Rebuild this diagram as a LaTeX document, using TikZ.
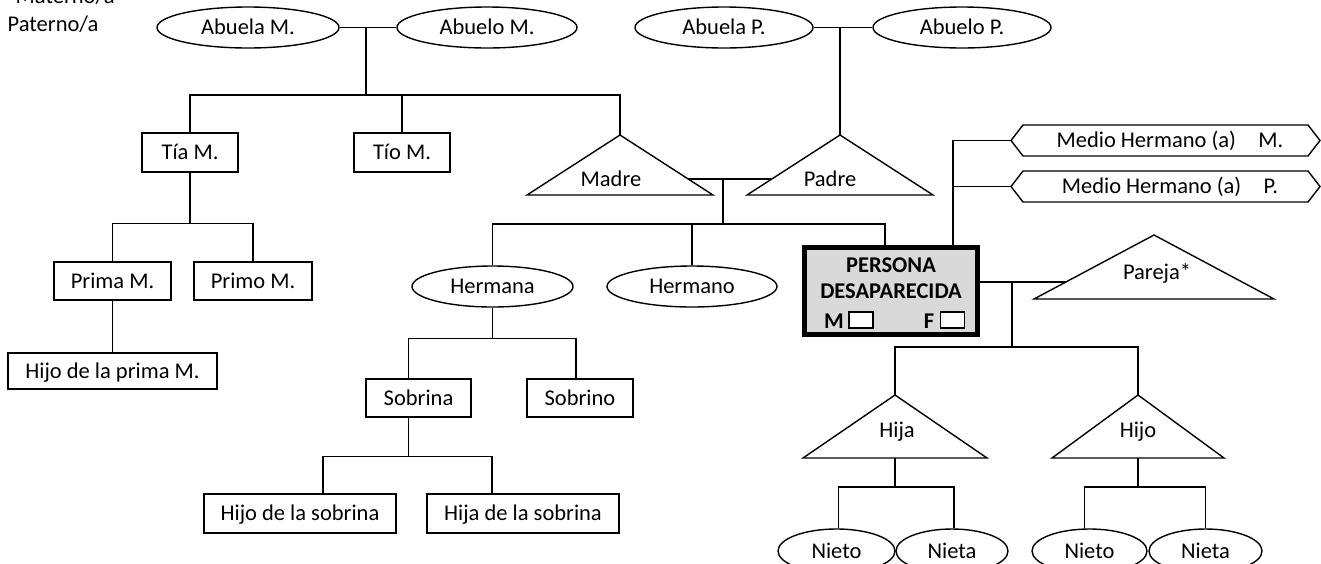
\documentclass[tikz,border=0pt]{standalone}
\usepackage{fontspec}
\setmainfont{Carlito}
\usetikzlibrary{shapes.geometric}
\begin{document}
\begin{tikzpicture}[
    x=0.5pt, y=-0.5pt,
    font=\fontsize{11.25}{13}\selectfont,
    line width=0.7pt,
    %% Persona en elipse
    oval/.style={draw, ellipse, inner sep=0pt, text height=7.2pt, text depth=0pt},
    %% Persona en caja
    caja/.style={draw, rectangle, inner sep=0pt, text height=7.2pt, text depth=0pt},
    %% Texto dentro de triángulo / hexágono
    trilbl/.style={inner sep=0pt, text height=7.2pt, text depth=0pt},
    %% Persona desaparecida
    desap/.style={draw, line width=2.5pt, fill=black!15, inner sep=0pt},
    desaptxt/.style={font=\fontsize{11.25}{13}\selectfont\bfseries,
        inner sep=0pt, text height=7.2pt, text depth=0pt},
    %% Casilla M / F
    casilla/.style={draw, fill=white, line width=0.7pt, inner sep=0pt,
        minimum width=12pt, minimum height=8pt},
    %% Leyenda arriba a la izquierda
    leyenda/.style={anchor=base west, inner sep=0pt}
]
\useasboundingbox (0,0) rectangle (1321,563);

%% ══════════════════════════════════════════════════════════════════
%% Leyenda
%% ══════════════════════════════════════════════════════════════════
\node[leyenda] (materno) at (15,3) {Materno/a};
\node[leyenda] (paterno) at (7,31) {Paterno/a};

%% ══════════════════════════════════════════════════════════════════
%% Elipses
%% ══════════════════════════════════════════════════════════════════
\foreach \n/\x/\y/\w/\h/\t in {
    abuelaM/248/27.5/182/41/Abuela M.,
    abueloM/487/27.5/180/41/Abuelo M.,
    abuelaP/724/27.5/178/41/Abuela P.,
    abueloP/962/27.5/178/41/Abuelo P.,
    hermana/492.5/286.5/161/41/Hermana,
    hermano/692/286.5/170/41/Hermano,
    nieto1/836.5/551/117/44/Nieto,
    nieta1/952/551/112/44/Nieta,
    nieto2/1089.5/551/115/44/Nieto,
    nieta2/1205.5/551/113/44/Nieta} {
    \node[oval, minimum width=\w*0.5pt, minimum height=\h*0.5pt] (\n) at (\x,\y) {\t};
}

%% ══════════════════════════════════════════════════════════════════
%% Cajas
%% ══════════════════════════════════════════════════════════════════
\foreach \n/\x/\y/\w/\h/\t in {
    tiaM/190/152.5/96/39/Tía M.,
    tioM/402/152.5/96/39/Tío M.,
    primaM/112.5/281/117/38/Prima M.,
    primoM/253/281/118/38/Primo M.,
    hijoprima/112.5/371/209/36/Hijo de la prima M.,
    sobrina/418.5/398/105/38/Sobrina,
    sobrino/580/398/106/38/Sobrino,
    hijosob/300/513.5/192/39/Hijo de la sobrina,
    hijasob/523/513.5/192/39/Hija de la sobrina} {
    \node[caja, minimum width=\w*0.5pt, minimum height=\h*0.5pt] (\n) at (\x,\y) {\t};
}

%% ══════════════════════════════════════════════════════════════════
%% Triángulos (vértice, media base, altura, texto)
%% ══════════════════════════════════════════════════════════════════
\foreach \n/\x/\y/\hw/\h/\tx/\ty/\t in {
    madre/620/135/93/60/611/179/Madre,
    padre/840/135/93/60/830/179/Padre,
    pareja/1154/235/120/64/1157/272/Pareja*,
    hija/895/395/92/63/897/430/Hija,
    hijo/1138/395/86/63/1138/430/Hijo} {
    \coordinate (\n-top) at (\x,\y);
    \coordinate (\n-base) at (\x,\y+\h);
    \draw (\n-top) -- ++(\hw,\h) -- ++(-2*\hw,0) -- cycle;
    \node[trilbl] (\n) at (\tx,\ty) {\t};
}

%% ══════════════════════════════════════════════════════════════════
%% Medios hermanos
%% ══════════════════════════════════════════════════════════════════
\foreach \n/\y/\t in {mhM/140.5/M., mhP/186.5/P.} {
    \draw (1011,\y) -- (1023,\y-15.5) -- (1308,\y-15.5) -- (1320,\y)
        -- (1308,\y+15.5) -- (1023,\y+15.5) -- cycle;
    \coordinate (\n-tip) at (1011,\y);
    \node[trilbl] (\n) at (1170,\y) {Medio Hermano (a)\quad \t};
}

%% ══════════════════════════════════════════════════════════════════
%% Persona desaparecida
%% ══════════════════════════════════════════════════════════════════
\node[desap, minimum width=173*0.5pt, minimum height=87*0.5pt] (persona) at (891,291) {};
\node[desaptxt] (persTxt1) at (891,265.5) {PERSONA};
\node[desaptxt] (persTxt2) at (891,291) {DESAPARECIDA};
\node[desaptxt] (persM) at (834,321) {M};
\node[desaptxt] (persF) at (929,321) {F};
\node[casilla] (casM) at (861,320) {};
\node[casilla] (casF) at (952.5,320) {};

%% ══════════════════════════════════════════════════════════════════
%% Líneas de parentesco
%% ══════════════════════════════════════════════════════════════════
%% Abuelos maternos -> tíos y madre
\draw (abuelaM) -- (abueloM);
\coordinate (jM) at (366,27.5);
\draw (jM) -- ++(0,67.5) coordinate (brM);
\draw (tiaM.north) |- (brM) -| (madre-top);
\draw (tioM.north) -- (tioM.north |- brM);

%% Abuelos paternos -> padre
\draw (abuelaP) -- (abueloP);
\draw (padre-top) -- (padre-top |- abuelaP.east);

%% Tía -> primos -> hijo de la prima
\draw (tiaM.south) -- ++(0,51) coordinate (brT);
\draw (primaM.north) |- (brT) -| (primoM.north);
\draw (primaM.south) -- (hijoprima.north);

%% Padres -> hermanos y persona
\coordinate (madre-r) at (688,179);
\coordinate (padre-l) at (771,179);
\draw (madre-r) -- (padre-l);
\coordinate (jPad) at (723,179);
\draw (jPad) -- ++(0,45) coordinate (brH);
\draw (hermana.north) |- (brH) -| ([xshift=-3pt]persona.north);
\draw (hermano.north) -- (hermano.north |- brH);

%% Hermana -> sobrinos -> hijos de la sobrina
\draw (hermana.south) -- ++(0,31) coordinate (brHna);
\draw ([xshift=-5pt]sobrina.north) |- (brHna) -| ([xshift=-2pt]sobrino.north);
\draw ([xshift=-5pt]sobrina.south) -- ++(0,39) coordinate (brSob);
\draw ([xshift=11.5pt]hijosob.north) |- (brSob) -| ([xshift=-15.5pt]hijasob.north);

%% Medios hermanos
\coordinate (mhBar) at ([xshift=31pt]persona.north);
\draw (mhBar) |- (mhM-tip);
\draw (mhP-tip) -- (mhP-tip -| mhBar);

%% Pareja -> hijos
\coordinate (pareja-l) at (1066,282);
\draw (persona.east |- pareja-l) -- (pareja-l);
\coordinate (jPar) at (1012,282);
\draw (jPar) -- ++(0,65) coordinate (brHij);
\draw (hija-top) |- (brHij) -| (hijo-top);

%% Hija / Hijo -> nietos
\draw (hija-base) -- ++(0,29) coordinate (brHja);
\draw ([xshift=1pt]nieto1.north) |- (brHja) -| ([xshift=1pt]nieta1.north);
\draw (hijo-base) -- ++(0,29) coordinate (brHjo);
\draw ([xshift=-2.5pt]nieto2.north) |- (brHjo) -| (nieta2.north);

\end{tikzpicture}
\end{document}
